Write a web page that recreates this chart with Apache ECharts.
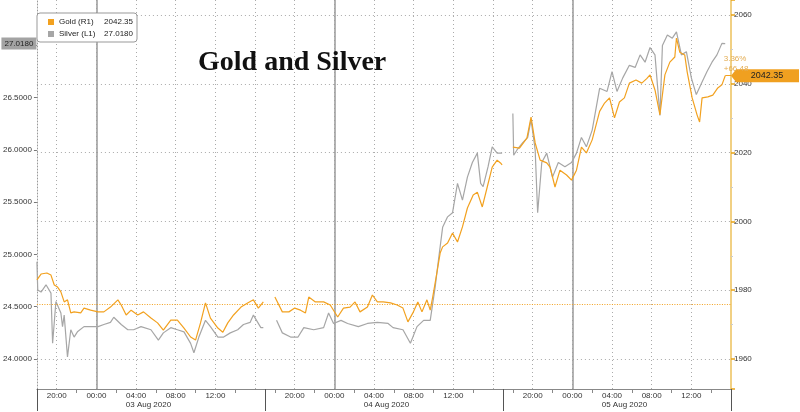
<!DOCTYPE html>
<html><head><meta charset="utf-8">
<script src="https://cdn.jsdelivr.net/npm/echarts@6/dist/echarts.min.js"></script>
<style>html,body{margin:0;padding:0;background:#fff}#c{width:800px;height:412px}</style>
</head><body><div id="c"></div>
<script>
const goldTimes = ['08-02 18:00','08-02 18:25','08-02 19:00','08-02 19:25','08-02 19:45','08-02 20:05','08-02 20:25','08-02 20:45','08-02 21:05','08-02 21:25','08-02 21:45','08-02 22:25','08-02 22:45','08-02 23:25','08-03 00:10','08-03 00:45','08-03 01:25','08-03 02:10','08-03 02:30','08-03 03:00','08-03 03:30','08-03 04:10','08-03 04:45','08-03 05:30','08-03 06:10','08-03 06:45','08-03 07:30','08-03 08:10','08-03 08:50','08-03 09:30','08-03 10:00','08-03 10:30','08-03 11:00','08-03 11:30','08-03 12:15','08-03 12:45','08-03 13:15','08-03 13:50','08-03 14:35','08-03 15:15','08-03 15:50','08-03 16:20','08-03 16:50','08-03 17:30',
'08-03 18:00','08-03 18:45','08-03 19:25','08-03 20:00','08-03 20:35','08-03 21:05','08-03 21:25','08-03 22:05','08-03 22:55','08-03 23:35','08-04 00:20','08-04 00:55','08-04 01:35','08-04 02:05','08-04 02:35','08-04 03:20','08-04 03:50','08-04 04:20','08-04 04:55','08-04 05:40','08-04 06:20','08-04 06:55','08-04 07:25','08-04 07:55','08-04 08:25','08-04 08:50','08-04 09:20','08-04 09:40','08-04 09:55','08-04 10:20','08-04 10:40','08-04 10:55','08-04 11:25','08-04 11:55','08-04 12:25','08-04 12:55','08-04 13:25','08-04 14:00','08-04 14:25','08-04 14:55','08-04 15:25','08-04 15:55','08-04 16:25','08-04 16:45','08-04 16:55','08-04 17:30',
'08-04 18:00','08-04 18:40','08-04 19:25','08-04 19:50','08-04 20:15','08-04 20:45','08-04 21:25','08-04 21:45','08-04 22:15','08-04 22:45','08-04 23:25','08-04 23:55','08-05 00:25','08-05 00:55','08-05 01:25','08-05 02:00','08-05 02:45','08-05 03:15','08-05 03:45','08-05 04:15','08-05 04:45','08-05 05:15','08-05 05:45','08-05 06:25','08-05 07:00','08-05 07:30','08-05 07:50','08-05 08:20','08-05 08:50','08-05 09:20','08-05 09:50','08-05 10:20','08-05 10:30','08-05 10:50','08-05 11:20','08-05 11:35','08-05 12:05','08-05 12:35','08-05 12:50','08-05 13:05','08-05 13:40','08-05 14:10','08-05 14:40','08-05 15:05','08-05 15:25'];
const goldValues = [1983.0,1984.7,1985.0,1984.4,1981.5,1980.9,1979.5,1976.6,1977.2,1973.4,1973.7,1973.4,1974.8,1974.2,1973.7,1973.7,1975.1,1977.2,1975.7,1972.8,1974.2,1972.8,1973.7,1971.9,1970.5,1968.4,1971.3,1971.3,1969.0,1966.4,1965.5,1970.5,1976.3,1971.9,1969.0,1967.8,1970.5,1972.8,1975.1,1976.3,1977.2,1974.8,1976.6,null,
1978.0,1973.7,1973.7,1974.8,1974.2,1973.4,1978.0,1976.6,1976.6,1975.7,1972.2,1974.8,1975.1,1976.6,1973.7,1975.1,1978.6,1976.6,1976.6,1976.3,1975.7,1974.8,1970.8,1973.4,1976.6,1973.7,1977.2,1974.2,1978.0,1985.0,1990.8,1992.6,1993.7,1996.6,1994.0,1998.4,2003.9,2007.7,2008.5,2004.2,2010.0,2015.8,2017.8,2017.0,2016.4,null,
2021.6,2021.3,2024.2,2030.3,2022.8,2017.8,2017.0,2015.8,2010.0,2014.9,2013.5,2012.0,2014.9,2021.6,2019.9,2023.7,2032.0,2034.4,2035.9,2030.1,2034.7,2035.9,2040.2,2041.1,2040.2,2041.5,2042.6,2038.2,2031.0,2042.6,2046.3,2047.8,2053.3,2049.2,2048.4,2043.4,2035.9,2030.9,2028.9,2035.9,2036.2,2036.7,2038.8,2039.7,2042.35];

const silverTimes = ['08-02 18:00','08-02 18:05','08-02 18:25','08-02 18:55','08-02 19:25','08-02 19:35','08-02 19:55','08-02 20:25','08-02 20:35','08-02 20:45','08-02 21:05','08-02 21:25','08-02 21:45','08-02 22:05','08-02 22:45','08-02 23:25','08-03 00:10','08-03 00:45','08-03 01:25','08-03 01:45','08-03 02:30','08-03 03:10','08-03 03:45','08-03 04:30','08-03 05:30','08-03 06:15','08-03 06:45','08-03 07:30','08-03 08:10','08-03 08:50','08-03 09:30','08-03 09:50','08-03 10:20','08-03 11:00','08-03 11:30','08-03 12:15','08-03 12:50','08-03 13:30','08-03 14:15','08-03 14:50','08-03 15:30','08-03 15:50','08-03 16:35','08-03 16:50','08-03 17:30',
'08-03 18:10','08-03 18:45','08-03 19:35','08-03 20:20','08-03 20:55','08-03 21:55','08-03 22:55','08-03 23:25','08-03 23:55','08-04 00:40','08-04 01:20','08-04 02:25','08-04 03:20','08-04 04:20','08-04 05:25','08-04 05:55','08-04 06:55','08-04 07:40','08-04 08:20','08-04 09:00','08-04 09:40','08-04 10:10','08-04 10:30','08-04 10:55','08-04 11:25','08-04 11:55','08-04 12:25','08-04 12:55','08-04 13:25','08-04 13:55','08-04 14:25','08-04 14:45','08-04 15:00','08-04 15:30','08-04 15:55','08-04 16:25','08-04 16:55','08-04 17:30',
'08-04 18:00','08-04 18:05','08-04 18:25','08-04 19:00','08-04 19:30','08-04 19:50','08-04 20:15','08-04 20:30','08-04 20:55','08-04 21:25','08-04 22:00','08-04 22:35','08-04 23:15','08-04 23:55','08-05 00:25','08-05 00:55','08-05 01:25','08-05 02:00','08-05 02:45','08-05 03:30','08-05 04:00','08-05 04:30','08-05 05:05','08-05 05:45','08-05 06:20','08-05 06:50','08-05 07:20','08-05 07:50','08-05 08:20','08-05 08:50','08-05 09:05','08-05 09:35','08-05 10:05','08-05 10:30','08-05 11:00','08-05 11:30','08-05 12:00','08-05 12:30','08-05 13:05','08-05 13:35','08-05 14:05','08-05 14:35','08-05 15:05','08-05 15:25'];
const silverValues = [24.93,24.66,24.64,24.71,24.63,24.15,24.55,24.44,24.31,24.42,24.02,24.28,24.21,24.26,24.31,24.31,24.31,24.33,24.35,24.40,24.33,24.28,24.28,24.31,24.28,24.18,24.25,24.30,24.28,24.26,24.15,24.06,24.21,24.37,24.31,24.21,24.21,24.25,24.28,24.33,24.35,24.42,24.30,24.30,null,
24.37,24.25,24.21,24.21,24.30,24.28,24.30,24.44,24.34,24.37,24.34,24.31,24.34,24.35,24.34,24.30,24.28,24.15,24.31,24.37,24.37,24.69,24.95,25.26,25.36,25.40,25.68,25.52,25.74,25.88,25.97,25.68,25.65,25.84,26.03,25.97,25.97,null,
26.35,25.95,26.00,26.07,26.12,26.29,26.00,25.40,25.88,25.97,25.74,25.88,25.84,25.88,25.97,26.12,26.03,26.19,26.59,26.56,26.75,26.56,26.69,26.81,26.79,26.91,26.84,26.98,26.91,26.33,27.00,27.10,27.07,27.13,26.91,26.94,26.69,26.53,26.65,26.75,26.84,26.91,27.02,27.018];

const goldRef = 1975.87;
const dateLabels = ['03 Aug 2020','04 Aug 2020','05 Aug 2020'];
const seriesNames = ['Gold (R1)','Silver (L1)'];

// hours since 02 Aug 2020 00:00
function toHours(s){
  const parts = s.split(' ');
  const d = +parts[0].split('-')[1];
  const hm = parts[1].split(':').map(Number);
  return (d - 2) * 24 + hm[0] + hm[1] / 60;
}
const goldData = goldTimes.map((t,i)=>[toHours(t), goldValues[i]]);
const silverData = silverTimes.map((t,i)=>[toHours(t), silverValues[i]]);
const lastGold = goldValues[goldValues.length-1];
const lastSilver = silverValues[silverValues.length-1];
const lastGoldH = toHours(goldTimes[goldTimes.length-1]);
const chg = lastGold - goldRef;
const pct = chg / goldRef * 100;

const X_MIN = 18, X_MAX = 88;
const GOLD = '#F2A11F', SILVER = '#A6A6A6';
const pad = n => (n < 10 ? '0' : '') + n;
const isMult = (v, m) => Math.abs(v / m - Math.round(v / m)) < 1e-6;

const chart = echarts.init(document.getElementById('c'), null, {renderer:'canvas'});
chart.setOption({
  animation: false,
  backgroundColor: '#fff',
  textStyle: {fontFamily: 'Liberation Sans'},
  title: {
    text: 'Gold and Silver', left: 193, top: 44,
    textStyle: {fontFamily: 'Liberation Serif', fontWeight: 'bold', fontSize: 28, color: '#111'}
  },
  legend: {
    orient: 'vertical', left: 37, top: 13, itemWidth: 6, itemHeight: 6, itemGap: 2,
    padding: [4, 4, 3, 11], backgroundColor: '#fff', borderColor: '#999', borderWidth: 1, borderRadius: 3,
    icon: 'rect', data: seriesNames,
    textStyle: {fontSize: 8, color: '#222', lineHeight: 10,
      rich: {n: {width: 44, fontSize: 8, color: '#222'}, v: {width: 30, align: 'right', fontSize: 8, color: '#222'}}},
    formatter: name => name === seriesNames[0]
      ? '{n|' + name + '}{v|' + lastGold.toFixed(2) + '}'
      : '{n|' + name + '}{v|' + lastSilver.toFixed(4) + '}'
  },
  grid: {left: 36, right: 69, top: 0, bottom: 23, containLabel: false},
  xAxis: [
    { type: 'value', min: X_MIN, max: X_MAX, minInterval: 4, maxInterval: 4, position: 'bottom',
      axisLine: {show: true, lineStyle: {color: '#888', width: 1}},
      axisTick: {show: false},
      minorTick: {show: true, splitNumber: 2, length: 4, lineStyle: {color: '#888'}},
      axisLabel: {fontSize: 8, color: '#333', margin: 3, showMinLabel: false, showMaxLabel: false,
        formatter: v => { if (!isMult(v, 4)) return ''; const hh = Math.round(v) % 24; if (hh === 16) return ''; return pad(hh) + ':00'; }},
      splitLine: {show: true, showMinLine: false, showMaxLine: false, lineStyle: {color: '#aaa', type: [1, 3], width: 1}}
    },
    { type: 'value', min: X_MIN, max: X_MAX, minInterval: 24, maxInterval: 24, position: 'bottom',
      axisLine: {show: false}, axisTick: {show: false}, axisLabel: {show: false},
      splitLine: {show: true, showMinLine: false, showMaxLine: false, lineStyle: {color: '#9a9a9a', width: 1.5, type: 'solid'}}
    },
    { type: 'value', min: X_MIN - 17, max: X_MAX - 17, minInterval: 24, maxInterval: 24, position: 'bottom',
      axisLine: {show: false}, axisLabel: {show: false}, splitLine: {show: false},
      axisTick: {show: true, length: 22, lineStyle: {color: '#555', width: 1}}
    },
    { type: 'value', min: X_MIN - 5.25, max: X_MAX - 5.25, minInterval: 24, maxInterval: 24, position: 'bottom',
      axisLine: {show: false}, axisTick: {show: false}, splitLine: {show: false},
      axisLabel: {fontSize: 8, color: '#333', margin: 12, showMinLabel: false, showMaxLabel: false,
        formatter: v => isMult(v, 24) ? (dateLabels[Math.round(v / 24) - 1] || '') : ''}
    }
  ],
  yAxis: [
    { type: 'value', position: 'left', min: 23.713, max: 27.435, minInterval: 0.5, maxInterval: 0.5,
      axisLine: {show: true, lineStyle: {color: '#999', type: [1, 2]}},
      axisTick: {show: true, length: 3, lineStyle: {color: '#777'}},
      axisLabel: {fontSize: 8, color: '#333', margin: 5, showMinLabel: false, showMaxLabel: false,
        formatter: v => v.toFixed(4)},
      splitLine: {show: false}
    },
    { type: 'value', position: 'right', min: 1951.28, max: 2064.36, minInterval: 20, maxInterval: 20,
      axisLine: {show: true, lineStyle: {color: '#EDC15A', width: 1.5}},
      axisTick: {show: true, length: 4, lineStyle: {color: '#E8A317', width: 1.5}},
      minorTick: {show: true, splitNumber: 2, length: 2, lineStyle: {color: '#ccc'}},
      axisLabel: {fontSize: 8, color: '#333', margin: 3, showMinLabel: false, showMaxLabel: false,
        formatter: v => String(Math.round(v))},
      splitLine: {show: true, showMinLine: false, showMaxLine: false, lineStyle: {color: '#aaa', type: [1, 3], width: 1}}
    }
  ],
  series: [
    { name: seriesNames[1], type: 'line', xAxisIndex: 0, yAxisIndex: 0, data: silverData,
      symbol: 'none', connectNulls: false, clip: false,
      lineStyle: {color: SILVER, width: 1.2}, itemStyle: {color: SILVER}, z: 3,
      markPoint: {
        symbol: 'rect', symbolSize: [35, 12], symbolOffset: [-18, 0], silent: true,
        itemStyle: {color: '#A3A3A3'},
        label: {show: true, position: 'inside', fontSize: 8, color: '#222', formatter: () => lastSilver.toFixed(4)},
        data: [{coord: [X_MIN, lastSilver]}]
      }
    },
    { name: seriesNames[0], type: 'line', xAxisIndex: 0, yAxisIndex: 1, data: goldData,
      symbol: 'none', connectNulls: false, clip: false,
      lineStyle: {color: GOLD, width: 1.2}, itemStyle: {color: GOLD}, z: 4,
      markLine: {
        silent: true, symbol: 'none', label: {show: false},
        data: [
          {yAxis: goldRef, lineStyle: {color: GOLD, type: [1, 1.5], width: 1}},
          [{coord: [lastGoldH, lastGold], lineStyle: {color: GOLD, type: 'solid', width: 1}}, {coord: [X_MAX, lastGold]}]
        ]
      },
      markPoint: {
        silent: true,
        data: [
          { coord: [X_MAX, lastGold], symbol: 'path://M0,6 L5,0 L66,0 L66,12 L5,12 Z', symbolKeepAspect: false,
            symbolSize: [68, 13], symbolOffset: [34, 0], itemStyle: {color: '#F0A020'},
            label: {show: true, position: 'inside', offset: [2, 0], fontSize: 9, color: '#222', formatter: () => lastGold.toFixed(2)} },
          { coord: [lastGoldH, lastGold], symbol: 'rect', symbolSize: 1, itemStyle: {color: 'rgba(0,0,0,0)'},
            label: {show: true, position: [-1, -21], align: 'left', verticalAlign: 'top', fontSize: 8, lineHeight: 10, color: '#E3AC52',
              formatter: () => pct.toFixed(2) + '%\n+' + chg.toFixed(2)} }
        ]
      }
    }
  ]
});
</script></body></html>
